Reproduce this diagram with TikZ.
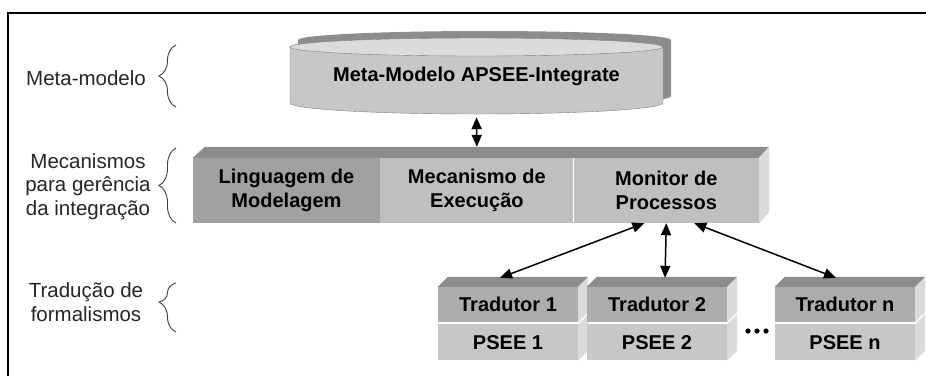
\documentclass[tikz,border=0pt]{standalone}
\usepackage{fontspec}
\setmainfont{Liberation Sans}
\usetikzlibrary{arrows.meta,positioning,calc,decorations.pathreplacing}

\begin{document}
\begin{tikzpicture}[x=1pt, y=-1pt,
    lbl/.style={align=center, font=\fontsize{20.5}{23.5}\selectfont, text=black!85},
    sec/.style={minimum height=65pt, inner sep=0pt, align=center, font=\bfseries\fontsize{20}{23.5}\selectfont},
    tbox/.style={minimum width=140pt, minimum height=35pt, inner sep=0pt, font=\bfseries\fontsize{20}{24}\selectfont},
    topface/.style={fill=black!45},
    sideface/.style={fill=black!14},
    arr/.style={{Triangle[length=12pt,width=10pt]}-{Triangle[length=12pt,width=10pt]}, line width=1.5pt},
    brc/.style={decorate, decoration={brace, amplitude=17pt}, line width=0.9pt, black!75}
]
\useasboundingbox (0,0) rectangle (926,376);
\draw[line width=2pt] (926,13) -- (8,13) -- (8,376);

% meta-modelo cylinder
\fill[black!45, shift={(8,-7)}] (290,47) -- (290,103) arc[start angle=180, end angle=360, x radius=186.5pt, y radius=11pt]
    -- (663,47) arc[start angle=0, end angle=180, x radius=186.5pt, y radius=9pt] -- cycle;
\filldraw[fill=black!22, draw=black!50, line width=0.4pt] (290,47) -- (290,103) arc[start angle=180, end angle=360, x radius=186.5pt, y radius=11pt]
    -- (663,47) arc[start angle=0, end angle=180, x radius=186.5pt, y radius=9pt] -- cycle;
\filldraw[fill=black!14, draw=black!50, line width=0.4pt] (476.5,47) ellipse[x radius=186.5pt, y radius=9pt];
\node[font=\bfseries\fontsize{20}{24}\selectfont, minimum width=373pt, minimum height=76pt, inner sep=0pt] (meta) at (476.5,76) {Meta-Modelo APSEE-Integrate};

% mecanismos
\node[sec, fill=black!37, minimum width=187pt] (lin) at (286.5,190.5) {Linguagem de\\Modelagem};
\node[sec, fill=black!25, minimum width=193pt, right=0pt of lin] (mec) {Mecanismo de\\Execução};
\node[sec, fill=black!25, minimum width=185pt, right=0pt of mec] (mon) {Monitor de\\Processos};
\fill[topface] (lin.north west) -- ++(12,-11) -- ($(mon.north east)+(10,-11)$) -- (mon.north east) -- cycle;
\fill[sideface] (mon.north east) -- ++(10,-11) -- ($(mon.south east)+(10,-11)$) -- (mon.south east) -- cycle;

\draw[arr] ($(meta.south)+(0,3)$) -- ($(mec.north)+(0,-11)$);

% tradutores
\foreach \i/\xc in {1/508, 2/657, n/845} {
  \node[tbox, fill=black!32] (tr\i) at (\xc,304.5) {Tradutor \i};
  \node[tbox, fill=black!22, minimum height=36pt, below=2pt of tr\i] (ps\i) {PSEE \i};
  \fill[topface] (tr\i.north west) -- ++(10,-10) -- ($(tr\i.north east)+(10,-10)$) -- (tr\i.north east) -- cycle;
  \fill[sideface] (tr\i.north east) -- ++(10,-10) -- ($(tr\i.south east)+(10,-10)$) -- (tr\i.south east) -- cycle;
  \fill[sideface] (ps\i.north east) -- ++(10,-10) -- ($(ps\i.south east)+(10,-10)$) -- (ps\i.south east) -- cycle;
}
\foreach \x in {748,757,766} \fill (\x,331) circle[radius=2.6pt];

\draw[arr] ($(mon.south)+(-22,0)$) -- ($(tr1.north)+(-8,-9)$);
\draw[arr] (mon.south) -- ($(tr2.north)+(8,-9)$);
\draw[arr] ($(mon.south)+(28,0)$) -- ($(trn.north)+(-9,-9)$);

% camadas
\node[lbl] (metalbl) at (86,78) {Meta-modelo};
\node[lbl] (meclbl) at (88,186.5) {Mecanismos\\para gerência\\da integração};
\node[lbl] (tralbl) at (86,302) {Tradução de\\formalismos};
\draw[brc] (176,107) -- (176,45);
\draw[brc] (176,223) -- (176,148);
\draw[brc, decoration={brace, amplitude=17pt, aspect=0.61}] (176,332) -- (176,283);
\end{tikzpicture}
\end{document}
